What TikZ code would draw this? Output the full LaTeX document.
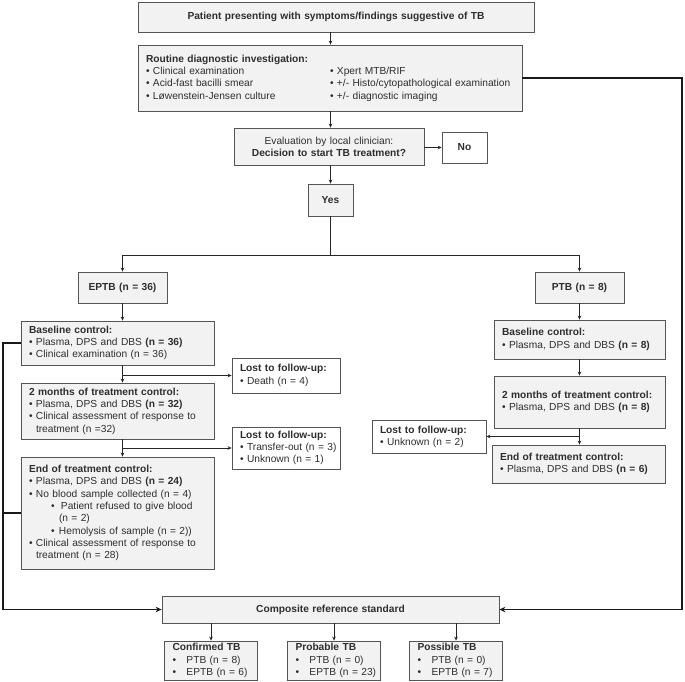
\documentclass[tikz,border=0pt]{standalone}
\usepackage{fontspec}
\setmainfont{Liberation Sans}
\usetikzlibrary{arrows.meta}
\definecolor{txt}{HTML}{2E2E2E}
\definecolor{boxfill}{HTML}{F2F2F2}
\definecolor{boxline}{HTML}{555555}
\newcommand{\bul}{\makebox[7pt][l]{•}}
\newcommand{\bbul}{\makebox[14pt][l]{•}}
\newcommand{\contind}{\hspace*{7pt}}
\begin{document}
\begin{tikzpicture}[x=1pt,y=-1pt,
  font=\fontsize{10.2}{12.3}\selectfont, text=txt,
  gbox/.style={draw=boxline, fill=boxfill, line width=0.8pt, inner xsep=8pt, inner ysep=0pt, align=left, anchor=center},
  wbox/.style={gbox, fill=white},
  conn/.style={draw=black!85, line width=0.8pt, -{Stealth[length=4pt,width=3.6pt]}},
  plainconn/.style={draw=black!85, line width=0.8pt},
  thickconn/.style={draw=black!90, line width=1.8pt, line join=miter, -{Stealth[length=6pt,width=5.5pt]}},
  thickline/.style={draw=black!90, line width=1.8pt}]
\useasboundingbox (0,0) rectangle (685,681);

% top chain
\node[gbox, align=center, minimum width=396pt, text width=380pt, minimum height=30pt] (top) at (336,17)
  {\textbf{Patient presenting with symptoms/findings suggestive of TB}};
\node[gbox, minimum width=384pt, text width=368pt, minimum height=66pt] (routine) at (330,78)
  {\textbf{Routine diagnostic investigation:}\\
   \makebox[184pt][l]{\bul Clinical examination}\mbox{\bul Xpert MTB/RIF}\\
   \makebox[184pt][l]{\bul Acid-fast bacilli smear}\mbox{\bul +/- Histo/cytopathological examination}\\
   \makebox[184pt][l]{\bul Løwenstein-Jensen culture}\mbox{\bul +/- diagnostic imaging}};
\node[gbox, align=center, minimum width=190pt, text width=174pt, minimum height=37pt] (eval) at (329,146.5)
  {Evaluation by local clinician:\\ \textbf{Decision to start TB treatment?}};
\node[wbox, align=center, minimum width=45pt, text width=29pt, minimum height=31pt] (no) at (464.5,147.5) {\textbf{No}};
\node[gbox, align=center, minimum width=45pt, text width=29pt, minimum height=32pt] (yes) at (330.5,200) {\textbf{Yes}};

% groups
\node[gbox, align=center, minimum width=89pt, text width=73pt, minimum height=31pt] (eptb) at (122.5,287.5) {\textbf{EPTB (n = 36)}};
\node[gbox, align=center, minimum width=89pt, text width=73pt, minimum height=31pt] (ptb) at (579.5,287.5) {\textbf{PTB (n = 8)}};

% EPTB column
\node[gbox, minimum width=193pt, text width=177pt, minimum height=44pt] (base1) at (117.5,343)
  {\textbf{Baseline control:}\\
   \mbox{\bul Plasma, DPS and DBS \textbf{(n = 36)}}\\
   \mbox{\bul Clinical examination (n = 36)}};
\node[wbox, minimum width=108pt, text width=92pt, minimum height=35pt] (lost1) at (286,375.5)
  {\textbf{Lost to follow-up:}\\ \mbox{\bul Death (n = 4)}};
\node[gbox, minimum width=193pt, text width=177pt, minimum height=56pt] (mon1) at (117.5,411)
  {\textbf{2 months of treatment control:}\\
   \mbox{\bul Plasma, DPS and DBS \textbf{(n = 32)}}\\
   \mbox{\bul Clinical assessment of response to}\\
   \contind treatment (n =32)};
\node[wbox, minimum width=108pt, text width=92pt, minimum height=42pt] (lost2) at (286,448)
  {\textbf{Lost to follow-up:}\\ \mbox{\bul Transfer-out (n = 3)}\\ \mbox{\bul Unknown (n = 1)}};
\node[gbox, minimum width=193pt, text width=177pt, minimum height=112pt] (eot1) at (117.5,513)
  {\textbf{End of treatment control:}\\
   \mbox{\bul Plasma, DPS and DBS \textbf{(n = 24)}}\\
   \mbox{\bul No blood sample collected (n = 4)}\\
   \mbox{\hspace*{22pt}\makebox[8pt][l]{•}\hspace{2pt}Patient refused to give blood}\\
   \hspace*{30pt}(n = 2)\\
   \mbox{\hspace*{22pt}\makebox[8pt][l]{•}Hemolysis of sample (n = 2))}\\
   \mbox{\bul Clinical assessment of response to}\\
   \contind treatment (n = 28)};

% PTB column
\node[gbox, minimum width=171pt, text width=155pt, minimum height=39pt] (base2) at (579.5,339.5)
  {\textbf{Baseline control:}\\ \mbox{\bul Plasma, DPS and DBS \textbf{(n = 8)}}};
\node[gbox, minimum width=171pt, text width=155pt, minimum height=52pt] (mon2) at (579.5,402)
  {\textbf{2 months of treatment control:}\\ \mbox{\bul Plasma, DPS and DBS \textbf{(n = 8)}}};
\node[wbox, minimum width=114pt, text width=98pt, minimum height=33pt] (lost3) at (429,436.5)
  {\textbf{Lost to follow-up:}\\ \mbox{\bul Unknown (n = 2)}};
\node[gbox, minimum width=173pt, text width=157pt, minimum height=38pt] (eot2) at (578.5,464)
  {\textbf{End of treatment control:}\\ \mbox{\bul Plasma, DPS and DBS \textbf{(n = 6)}}};

% composite
\node[gbox, align=center, minimum width=337pt, text width=321pt, minimum height=27pt] (comp) at (330.5,609.5)
  {\textbf{Composite reference standard}};
\node[gbox, minimum width=93pt, text width=77pt, minimum height=39pt] (conf) at (211,660.5)
  {\textbf{Confirmed TB}\\ \mbox{\bbul PTB (n = 8)}\\ \mbox{\bbul EPTB (n = 6)}};
\node[gbox, minimum width=93pt, text width=77pt, minimum height=39pt] (prob) at (334,660.5)
  {\textbf{Probable TB}\\ \mbox{\bbul PTB (n = 0)}\\ \mbox{\bbul EPTB (n = 23)}};
\node[gbox, minimum width=93pt, text width=77pt, minimum height=39pt] (poss) at (456,660.5)
  {\textbf{Possible TB}\\ \mbox{\bbul PTB (n = 0)}\\ \mbox{\bbul EPTB (n = 7)}};

% connectors
\coordinate (br) at (330.5,255);
\coordinate (L) at (3,609.5);
\coordinate (R) at (682,609.5);
\draw[conn] (top.south -| yes) -- (routine.north -| yes);
\draw[conn] (routine.south -| yes) -- (eval.north -| yes);
\draw[conn] (eval.east |- no.west) -- (no.west);
\draw[conn] (eval.south -| yes) -- (yes.north);
\draw[plainconn] (yes.south) -- (br);
\draw[conn] (br) -| (eptb.north);
\draw[conn] (br) -| (ptb.north);

\draw[conn] (eptb.south) -- (base1.north -| eptb.south);
\draw[conn] (base1.south -| eptb.south) -- (mon1.north -| eptb.south);
\draw[conn] (lost1.west -| eptb.south) -- (lost1.west);
\draw[conn] (mon1.south -| eptb.south) -- (eot1.north -| eptb.south);
\draw[conn] (lost2.west -| eptb.south) -- (lost2.west);

\draw[conn] (ptb.south) -- (base2.north -| ptb.south);
\draw[conn] (base2.south -| ptb.south) -- (mon2.north -| ptb.south);
\draw[conn] (mon2.south -| ptb.south) -- (eot2.north -| ptb.south);
\draw[conn] (lost3.east -| ptb.south) -- (lost3.east);

\draw[conn] (comp.south -| conf.north) -- (conf.north);
\draw[conn] (comp.south -| prob.north) -- (prob.north);
\draw[conn] (comp.south -| poss.north) -- (poss.north);

\draw[thickconn] (base1.west) -| (L) -- (comp.west);
\draw[thickline] (eot1.west) -- (eot1.west -| L);
\draw[thickconn] (routine.east) -| (R) -- (comp.east);
\end{tikzpicture}
\end{document}
